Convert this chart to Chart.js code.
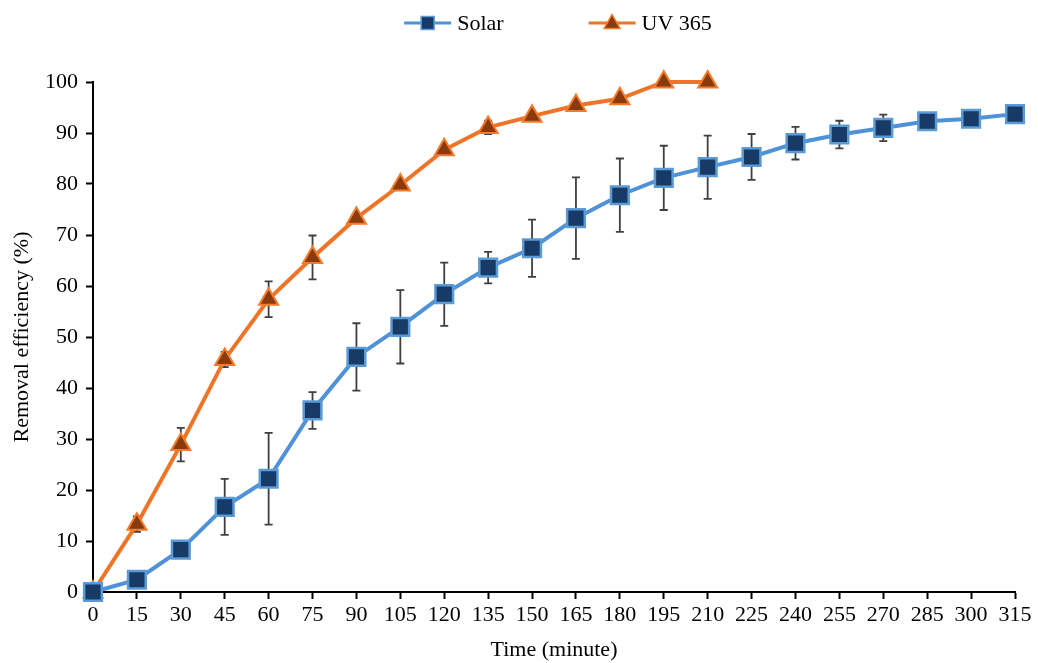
<!DOCTYPE html>
<html lang="en">
  <head>
    <meta charset="UTF-8" />
    <title>Removal efficiency</title>
    <script src="https://cdn.jsdelivr.net/npm/chart.js"></script>
    <style>
      html,
      body {
        margin: 0;
        padding: 0;
        background: #fff;
      }
      .chart-container {
        position: relative;
        width: 1038px;
        height: 663px;
      }
    </style>
  </head>
  <body>
    <div class="chart-container">
      <canvas id="myChart"></canvas>
    </div>
    <script>
      // dados
      var tempos = [0, 15, 30, 45, 60, 75, 90, 105, 120, 135, 150, 165, 180, 195, 210, 225, 240, 255, 270, 285, 300, 315];
      var solar = [0, 2.4, 8.3, 16.7, 22.2, 35.6, 46.1, 52, 58.4, 63.6, 67.4, 73.3, 77.8, 81.2, 83.3, 85.3, 88, 89.7, 91, 92.3, 92.8, 93.7];
      var solarErro = [0, 0, 0, 5.5, 9, 3.6, 6.6, 7.2, 6.2, 3.1, 5.6, 8, 7.2, 6.3, 6.2, 4.5, 3.2, 2.7, 2.6, 0, 0, 0];
      var uv365 = [0, 13.3, 28.9, 45.6, 57.4, 65.6, 73.3, 79.8, 86.7, 91.1, 93.3, 95.4, 96.7, 100, 100];
      var uvErro = [0, 1.5, 3.3, 1.5, 3.5, 4.3, 0.8, 0.7, 0.5, 1.3, 0.4, 0, 0.5, 0, 0];
      var ticksX = [0, 15, 30, 45, 60, 75, 90, 105, 120, 135, 150, 165, 180, 195, 210, 225, 240, 255, 270, 285, 300, 315];
      var ticksY = [0, 10, 20, 30, 40, 50, 60, 70, 80, 90, 100];

      var fonte = "'Liberation Serif', 'Times New Roman', serif";

      function pontos(valores) {
        return valores.map(function (v, i) {
          return { x: tempos[i], y: v };
        });
      }

      // barras de erro, desenhadas atras das linhas
      const barrasErro = {
        id: "barrasErro",
        beforeDatasetsDraw(chart) {
          const ctx = chart.ctx;
          const sx = chart.scales.x;
          const sy = chart.scales.y;
          ctx.save();
          ctx.strokeStyle = "#3f3f3f";
          ctx.lineWidth = 1.8;
          chart.data.datasets.forEach(function (ds) {
            ds.erros.forEach(function (e, i) {
              if (!e) return;
              const p = ds.data[i];
              const px = sx.getPixelForValue(p.x);
              const topo = sy.getPixelForValue(p.y + e);
              const base = sy.getPixelForValue(p.y - e);
              ctx.beginPath();
              ctx.moveTo(px, topo);
              ctx.lineTo(px, base);
              ctx.moveTo(px - 4, topo);
              ctx.lineTo(px + 4, topo);
              ctx.moveTo(px - 4, base);
              ctx.lineTo(px + 4, base);
              ctx.stroke();
            });
          });
          ctx.restore();
        },
      };

      // legenda no estilo do excel (linha + marcador)
      const legendaExcel = {
        id: "legendaExcel",
        afterDraw(chart) {
          const ctx = chart.ctx;
          const area = chart.chartArea;
          ctx.save();
          ctx.font = "22px " + fonte;
          ctx.textBaseline = "middle";
          const larguraLinha = 47;
          const gap = 6;
          const espaco = 85;
          const itens = chart.data.datasets.map(function (ds) {
            return { ds: ds, w: larguraLinha + gap + ctx.measureText(ds.label).width };
          });
          let total = itens.reduce(function (s, it) { return s + it.w; }, 0) + espaco * (itens.length - 1);
          let x = (area.left + area.right) / 2 - total / 2 + 4;
          const y = 23;
          itens.forEach(function (it) {
            const ds = it.ds;
            ctx.strokeStyle = ds.borderColor;
            ctx.lineWidth = 3;
            ctx.beginPath();
            ctx.moveTo(x, y);
            ctx.lineTo(x + larguraLinha, y);
            ctx.stroke();
            const cx = x + larguraLinha / 2;
            ctx.fillStyle = ds.pointBackgroundColor;
            ctx.strokeStyle = ds.pointBorderColor;
            ctx.lineWidth = 1.5;
            ctx.beginPath();
            if (ds.pointStyle === "rect") {
              ctx.rect(cx - 6.5, y - 6.5, 13, 13);
            } else {
              ctx.moveTo(cx, y - 8.5);
              ctx.lineTo(cx + 8, y + 5.5);
              ctx.lineTo(cx - 8, y + 5.5);
              ctx.closePath();
            }
            ctx.fill();
            ctx.stroke();
            ctx.fillStyle = "#000";
            ctx.fillText(ds.label, x + larguraLinha + gap, y + 1);
            x += it.w + espaco;
          });
          ctx.restore();
        },
      };

      const ctx = document.getElementById("myChart");

      new Chart(ctx, {
        type: "line",
        data: {
          datasets: [
            {
              label: "Solar",
              data: pontos(solar),
              erros: solarErro,
              borderColor: "#4f92d8",
              borderWidth: 4,
              pointStyle: "rect",
              pointRadius: 12.5,
              pointBackgroundColor: "#173a66",
              pointBorderColor: "#5b9bd5",
              pointBorderWidth: 2.5,
              clip: false,
              tension: 0,
            },
            {
              label: "UV 365",
              data: pontos(uv365),
              erros: uvErro,
              borderColor: "#ef7427",
              borderWidth: 4,
              pointStyle: "triangle",
              pointRadius: 11,
              pointBackgroundColor: "#8a3a0c",
              pointBorderColor: "#f47a2c",
              pointBorderWidth: 2,
              clip: false,
              tension: 0,
            },
          ],
        },
        options: {
          responsive: true,
          maintainAspectRatio: false,
          animation: false,
          layout: {
            padding: { top: 82, right: 23, bottom: 0, left: 0 },
          },
          plugins: {
            legend: { display: false },
            tooltip: { enabled: false },
          },
          scales: {
            x: {
              type: "linear",
              min: 0,
              max: 315,
              afterBuildTicks: function (scale) {
                scale.ticks = ticksX.map(function (v) { return { value: v }; });
              },
              afterFit: function (scale) {
                scale.height = 71;
              },
              grid: {
                display: true,
                drawOnChartArea: false,
                drawTicks: true,
                tickLength: 7,
                tickWidth: 2,
                tickColor: "#000",
              },
              border: { display: true, color: "#000", width: 2 },
              ticks: {
                color: "#000",
                padding: 3,
                maxRotation: 0,
                autoSkip: false,
                font: { family: fonte, size: 22 },
              },
              title: {
                display: true,
                text: "Time (minute)",
                color: "#000",
                padding: { top: 0, bottom: 0 },
                font: { family: fonte, size: 22 },
              },
            },
            y: {
              min: 0,
              max: 100,
              afterBuildTicks: function (scale) {
                scale.ticks = ticksY.map(function (v) { return { value: v }; });
              },
              afterFit: function (scale) {
                scale.width = 93;
              },
              grid: {
                display: true,
                drawOnChartArea: false,
                drawTicks: true,
                tickLength: 7,
                tickWidth: 2,
                tickColor: "#000",
              },
              border: { display: true, color: "#000", width: 2 },
              ticks: {
                color: "#000",
                padding: 8,
                font: { family: fonte, size: 22 },
              },
              title: {
                display: true,
                text: "Removal efficiency (%)",
                color: "#000",
                padding: { top: 9, bottom: 0 },
                font: { family: fonte, size: 22 },
              },
            },
          },
        },
        plugins: [barrasErro, legendaExcel],
      });
    </script>
  </body>
</html>
